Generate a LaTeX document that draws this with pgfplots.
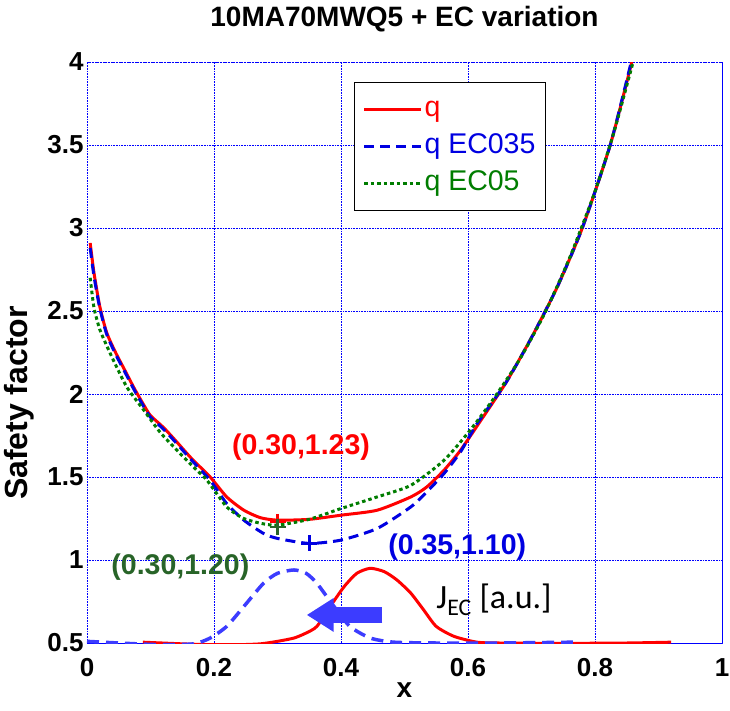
\documentclass[border=0pt]{standalone}
\usepackage{pgfplots}
\pgfplotsset{compat=1.18}
\usepackage{fontspec}
\setmainfont{Liberation Sans}
\newfontfamily\calib{Carlito}
\usetikzlibrary{arrows.meta}
\definecolor{qred}{RGB}{255,0,0}
\definecolor{qblue}{RGB}{0,0,225}
\definecolor{qgreen}{RGB}{0,125,0}
\definecolor{jblue}{RGB}{60,60,255}
\definecolor{agreen}{RGB}{40,100,40}
\begin{document}
\begin{tikzpicture}
\path[use as bounding box] (-87pt,-67pt) rectangle (643pt,643pt);
\begin{axis}[
  scale only axis, width=635pt, height=581pt,
  xmin=0, xmax=1, ymin=0.5, ymax=4,
  xtick={0,0.2,...,1}, ytick={0.5,1,...,4},
  /pgf/number format/assume math mode=true,
  ticklabel style={font=\bfseries\fontsize{26}{30}\selectfont},
  xticklabel style={yshift=-12pt},
  major tick length=0pt,
  grid=major,
  major grid style={draw=blue, line width=0.8pt, dash pattern=on 0.8pt off 0.8pt},
  axis line style={draw=blue, line width=0.8pt, dash pattern=on 0.8pt off 0.8pt},
  title={10MA70MWQ5 + EC variation},
  title style={font=\bfseries\fontsize{28}{32}\selectfont, at={(axis description cs:0.5,1.0637)}, anchor=center},
  xlabel={x}, ylabel={Safety factor},
  xlabel style={font=\bfseries\fontsize{28}{32}\selectfont, at={(axis description cs:0.5,-0.081)}, anchor=center},
  ylabel style={font=\bfseries\fontsize{32}{36}\selectfont, at={(axis description cs:-0.107,0.413)}, anchor=center},
  legend style={at={(rel axis cs:0.4205,0.9656)}, anchor=north west, draw=black, line width=1pt, fill=white,
    font=\fontsize{28.5}{32}\selectfont, inner xsep=8pt, inner ysep=12pt, row sep=7pt,
    nodes={inner sep=2pt, text height=20pt, text depth=6pt},
    cells={anchor=west}},
  legend image code/.code={\draw[#1, line width=3pt] (0pt,0pt) -- (57pt,0pt);},
]
\addplot[qred, line width=3pt, smooth, tension=0.4] coordinates {
(0.005,2.91) (0.011,2.73) (0.02,2.53) (0.031,2.37) (0.045,2.25) (0.06,2.14) (0.075,2.03) (0.09,1.93)
(0.10,1.87) (0.12,1.80) (0.137,1.73) (0.165,1.61) (0.194,1.50) (0.22,1.38) (0.247,1.30) (0.273,1.255)
(0.30,1.24) (0.35,1.245) (0.40,1.27) (0.457,1.30) (0.51,1.38) (0.535,1.44) (0.562,1.54) (0.588,1.66)
(0.62,1.84) (0.66,2.07) (0.70,2.34) (0.74,2.64) (0.78,3.0) (0.824,3.5) (0.858,4.0)};
\addlegendentry{\textcolor{qred}{q}}
\addplot[qblue, line width=3pt, dash pattern=on 10pt off 6pt, smooth, tension=0.4] coordinates {
(0.005,2.88) (0.011,2.71) (0.02,2.52) (0.031,2.36) (0.045,2.24) (0.06,2.13) (0.075,2.02) (0.09,1.92)
(0.10,1.86) (0.12,1.79) (0.137,1.72) (0.165,1.60) (0.194,1.48) (0.22,1.34) (0.247,1.24) (0.278,1.16)
(0.30,1.13) (0.35,1.10) (0.40,1.12) (0.457,1.19) (0.51,1.32) (0.535,1.41) (0.562,1.52) (0.588,1.65)
(0.614,1.82) (0.66,2.07) (0.70,2.34) (0.74,2.64) (0.78,3.0) (0.824,3.5) (0.857,4.0)};
\addlegendentry{\textcolor{qblue}{q EC035}}
\addplot[qgreen, line width=3pt, dash pattern=on 3.5pt off 3pt, smooth, tension=0.4] coordinates {
(0.005,2.70) (0.011,2.52) (0.02,2.39) (0.03,2.30) (0.042,2.20) (0.063,2.04) (0.09,1.90) (0.115,1.77)
(0.142,1.66) (0.165,1.57) (0.189,1.48) (0.22,1.32) (0.247,1.25) (0.275,1.22) (0.30,1.21) (0.35,1.245)
(0.40,1.31) (0.457,1.38) (0.51,1.45) (0.562,1.60) (0.603,1.78) (0.64,1.97) (0.68,2.20) (0.72,2.48)
(0.76,2.82) (0.80,3.22) (0.83,3.58) (0.86,4.0)};
\addlegendentry{\textcolor{qgreen}{q EC05}}
\addplot[qred, line width=3pt, smooth, tension=0.4, forget plot] coordinates {
(0.088,0.505) (0.15,0.495) (0.194,0.49) (0.24,0.49) (0.273,0.495) (0.30,0.51) (0.326,0.53) (0.345,0.56)
(0.362,0.60) (0.383,0.72) (0.405,0.84) (0.425,0.92) (0.446,0.95) (0.468,0.93) (0.488,0.88) (0.51,0.80)
(0.53,0.70) (0.55,0.60) (0.578,0.54) (0.614,0.505) (0.65,0.50) (0.75,0.498) (0.85,0.50) (0.92,0.505)};
\addplot[jblue, line width=3.5pt, dash pattern=on 12pt off 7pt, smooth, tension=0.4, forget plot] coordinates {
(0,0.51) (0.05,0.50) (0.115,0.49) (0.168,0.495) (0.194,0.53) (0.22,0.60) (0.247,0.72) (0.278,0.86)
(0.30,0.92) (0.326,0.94) (0.345,0.92) (0.362,0.86) (0.389,0.72) (0.414,0.60) (0.446,0.53) (0.483,0.505)
(0.55,0.50) (0.65,0.50) (0.765,0.505)};
\addplot[qred, only marks, mark=+, mark size=8pt, mark options={line width=2.5pt}, forget plot] coordinates {(0.30,1.23)};
\addplot[agreen, only marks, mark=+, mark size=8pt, mark options={line width=2.5pt}, forget plot] coordinates {(0.30,1.20)};
\addplot[qblue, only marks, mark=+, mark size=8pt, mark options={line width=2.5pt}, forget plot] coordinates {(0.35,1.10)};
\draw[jblue, line width=16pt, -{Triangle[length=27pt, width=32pt]}] (axis cs:0.465,0.669) -- (axis cs:0.346,0.669);
\node[qred, font=\bfseries\fontsize{28.5}{32}\selectfont] at (axis cs:0.337,1.68) {(0.30,1.23)};
\node[qblue, font=\bfseries\fontsize{28.5}{32}\selectfont] at (axis cs:0.583,1.08) {(0.35,1.10)};
\node[agreen, font=\bfseries\fontsize{28.5}{32}\selectfont] at (axis cs:0.147,0.96) {(0.30,1.20)};
\node[anchor=west, inner sep=0pt, font=\calib\fontsize{34}{38}\selectfont] at (axis cs:0.55,0.76) {J\textsubscript{EC} [a.u.]};
\end{axis}
\end{tikzpicture}
\end{document}
